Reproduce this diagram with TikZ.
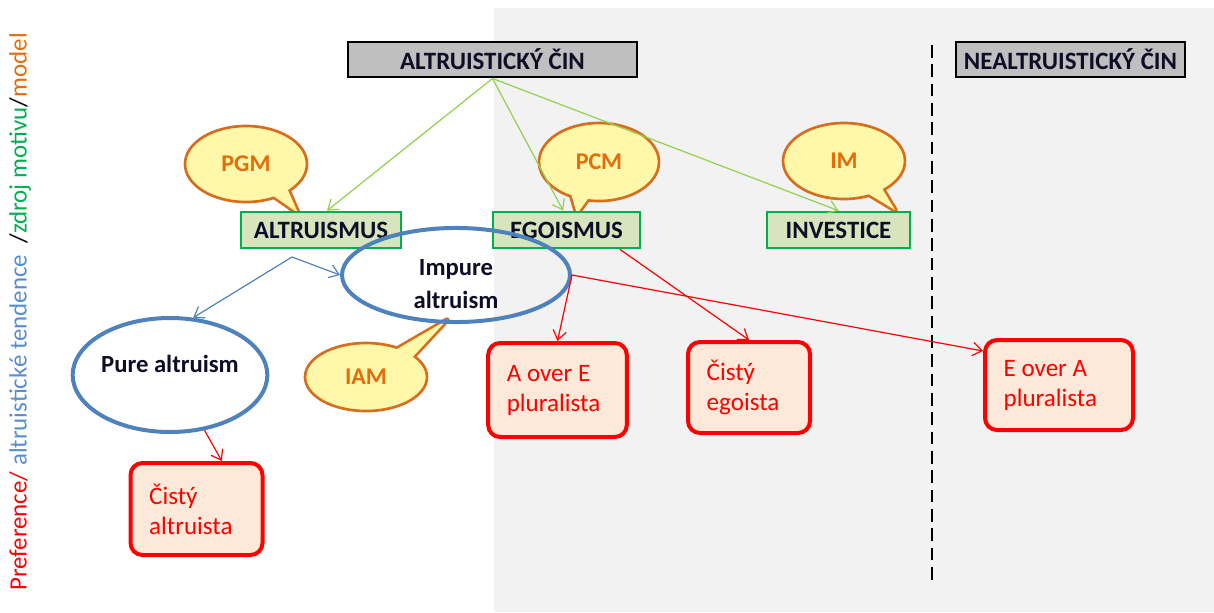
\documentclass[tikz,border=0pt]{standalone}
\usepackage{fontspec}
\setmainfont{Carlito}
\usetikzlibrary{shapes.geometric,arrows.meta}
\definecolor{bggray}{RGB}{242,242,242}
\definecolor{boxgray}{RGB}{191,191,191}
\definecolor{grnfill}{RGB}{215,228,189}
\definecolor{grnline}{RGB}{0,176,80}
\definecolor{lgreen}{RGB}{146,208,80}
\definecolor{blueln}{RGB}{79,129,189}
\definecolor{redfill}{RGB}{253,233,217}
\definecolor{callfill}{RGB}{255,248,170}
\definecolor{callline}{RGB}{214,110,30}
\definecolor{orangetxt}{RGB}{228,108,10}
\definecolor{darktxt}{RGB}{13,13,38}
\definecolor{lbluetxt}{RGB}{85,142,213}
\newcommand\mycallout[8]{%
  \fill[callfill,draw=callline,line width=4pt,line join=round] (#6) -- (#8) -- (#7) -- cycle;
  \node[bubble,minimum width=#3,minimum height=#4] (#1) at (#2) {#5};
  \fill[callfill] (#6) -- (#8) -- (#7) -- cycle;
}
\tikzset{
  titlebox/.style={draw=black,fill=boxgray,line width=2.2pt,inner sep=0pt,
    minimum height=26.25pt,text=darktxt,font=\fontsize{18.7}{21}\selectfont\bfseries},
  motivbox/.style={draw=grnline,fill=grnfill,line width=2pt,inner sep=0pt,
    minimum height=27pt,text=darktxt,font=\fontsize{18.7}{21}\selectfont\bfseries},
  tendell/.style={ellipse,draw=blueln,line width=3pt,inner sep=0pt,align=center,
    text=darktxt,font=\fontsize{18.5}{24.75}\selectfont\bfseries},
  prefbox/.style={draw=red,fill=redfill,line width=3pt,rounded corners=9pt,
    text=red,align=flush left,inner xsep=14pt,inner ysep=0pt,
    font=\fontsize{18.8}{22.5}\selectfont},
  bubble/.style={ellipse,fill=callfill,draw=callline,line width=2pt,inner sep=0pt,
    text=orangetxt,font=\fontsize{18}{20}\selectfont\bfseries},
  tipbarb/.style={-{Straight Barb[length=7pt,width=10pt]}},
  garrow/.style={draw=lgreen,line width=0.9pt,tipbarb},
  barrow/.style={draw=blueln,line width=0.9pt,tipbarb},
  rarrow/.style={draw=red,line width=0.9pt,tipbarb},
}
\begin{document}
\begin{tikzpicture}[x=0.75pt,y=-0.75pt]
\useasboundingbox (0,0) rectangle (1214,612);
\fill[bggray] (494,8) rectangle (1214,612);

% dashed separator
\coordinate (dtop) at (932,45);
\coordinate (dbot) at (932,585);
\draw[black,line width=2.2pt,dash pattern=on 9.5pt off 5pt] (dtop) -- (dbot);

% side label
\node[rotate=90,font=\fontsize{18.7}{21}\selectfont,inner sep=0pt] (side) at (20,312)
  {\textcolor{red}{Preference/} \textcolor{lbluetxt}{altruistické tendence}\ \ /\textcolor{grnline}{zdroj motivu}/\textcolor{orangetxt}{model}};

% callouts
\mycallout{pgm}{246,164}{91.5pt}{57pt}{PGM}{272,195}{287,188}{298,213}
\mycallout{pcm}{599,162}{90pt}{58.5pt}{PCM}{570,190}{590,196}{577,214}
\mycallout{im}{844,161}{91.5pt}{57pt}{IM}{862,190}{880,185}{895,210}
\mycallout{iam}{366,377}{91.5pt}{51pt}{IAM}{392,352}{408,362}{447,320}

% top boxes
\node[titlebox,minimum width=216.75pt] (cin) at (492.5,59.5) {ALTRUISTICKÝ ČIN};
\node[titlebox,minimum width=171.75pt] (necin) at (1070.5,59.5) {NEALTRUISTICKÝ ČIN};

% motive boxes
\node[motivbox,minimum width=120pt] (altr) at (321,230) {ALTRUISMUS};
\node[motivbox,minimum width=110.25pt] (egoi) at (566.5,230) {EGOISMUS\hspace{15pt}};
\node[motivbox,minimum width=107.25pt] (inv) at (838.5,230) {INVESTICE};

% tendency ellipses
\node[tendell,minimum width=171pt,minimum height=70.5pt] (impure) at (456,275)
  {\rule{0pt}{25pt}Impure\\altruism};
\node[tendell,minimum width=139.5pt,minimum height=85.5pt] (pure) at (170,375)
  {Pure altruism\rule[-16.5pt]{0pt}{1pt}};

% preference boxes
\node[prefbox,text width=71pt,minimum height=69pt] (calt) at (196.5,509) {Čistý\\altruista};
\node[prefbox,text width=76pt,minimum height=70.5pt] (aoe) at (557.5,390) {A over E\\pluralista};
\node[prefbox,text width=63.5pt,minimum height=68.25pt] (cego) at (749,387.5) {Čistý\\egoista};
\node[prefbox,text width=83pt,minimum height=67.5pt] (eoa) at (1059,385) {E over A\\pluralista};

% green arrows
\draw[garrow] (cin.south) -- ([xshift=4.5pt]altr.north);
\draw[garrow] (cin.south) -- ([xshift=-2.5pt]egoi.north);
\draw[garrow] (cin.south) -- (inv.north);

% blue arrows
\coordinate (split) at (292,257);
\draw[barrow] (split) -- (pure.68);
\draw[barrow] (split) -- (impure.west);

% red arrows
\draw[rarrow] (pure.-58) -- ([xshift=19pt]calt.north);
\draw[rarrow] (impure.east) -- (aoe.north);
\draw[rarrow] (impure.east) -- ([yshift=-9.75pt]eoa.north west);
\draw[rarrow] ([xshift=40pt]egoi.south) -- (cego.north);
\end{tikzpicture}
\end{document}
